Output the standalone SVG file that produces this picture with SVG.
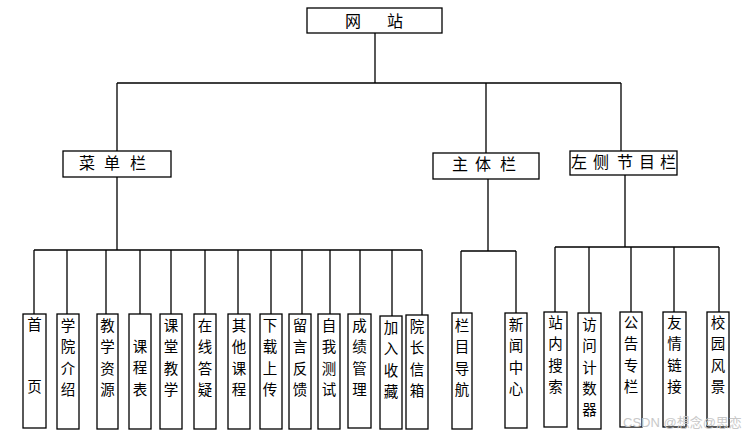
<svg xmlns="http://www.w3.org/2000/svg" width="753" height="437" viewBox="0 0 753 437">
<style>
.box{fill:#fff;stroke:#000;stroke-width:1.3}
.ln{fill:none;stroke:#000;stroke-width:1.3}
.t{font-family:"Noto Sans CJK SC","Liberation Sans",sans-serif;font-size:16px;fill:#000}
.v{font-family:"Noto Sans CJK SC","Liberation Sans",sans-serif;font-size:14.5px;fill:#000;text-anchor:middle}
.wm{font-family:"Liberation Sans","Noto Sans CJK SC",sans-serif;font-size:13px;fill:#c8c8c8}
</style>
<rect width="753" height="437" fill="#fff"/>
<g id="connectors">
<path class="ln" d="M375 33V83M117 83H621M117 83V151M486 83V153M621 83V151"/>
<path class="ln" d="M117 177V250M34 250H422M34 250V314M67 250V314M106 250V314M140 250V314M171 250V314M205 250V314M238 250V314M271 250V314M302 250V314M330 250V314M360 250V314M392 250V316M422 250V315"/>
<path class="ln" d="M488 179V251M461 251H516M461 251V313M516 251V313"/>
<path class="ln" d="M625 175V247M555 247H719M555 247V312M589 247V313M631 247V312M674 247V312M719 247V312"/>
</g>
<g id="n-wangzhan"><rect class="box" x="307" y="8" width="135" height="25"/><text class="t" x="345" y="27">网</text><text class="t" x="387" y="27">站</text></g>
<g id="n-caidan"><rect class="box" x="63" y="151" width="108" height="26"/><text class="t" x="79" y="169">菜</text><text class="t" x="104" y="169">单</text><text class="t" x="130" y="169">栏</text></g>
<g id="n-zhuti"><rect class="box" x="433" y="153" width="106" height="26"/><text class="t" x="452" y="170">主</text><text class="t" x="475" y="170">体</text><text class="t" x="500" y="170">栏</text></g>
<g id="n-zuoce"><rect class="box" x="570" y="151" width="107" height="24"/><text class="t" x="571" y="168">左</text><text class="t" x="593" y="168">侧</text><text class="t" x="617" y="168">节</text><text class="t" x="639" y="168">目</text><text class="t" x="660" y="168">栏</text></g>
<g id="n-shouye"><rect class="box" x="23" y="314" width="23" height="114"/><text class="v" x="34.5" y="330">首</text><text class="v" x="34.5" y="392">页</text></g>
<g id="n-xueyuan"><rect class="box" x="57" y="314" width="22" height="115"/><text class="v" x="68" y="331">学</text><text class="v" x="68" y="352">院</text><text class="v" x="68" y="374">介</text><text class="v" x="68" y="395">绍</text></g>
<g id="n-jiaoxue"><rect class="box" x="97" y="314" width="21" height="115"/><text class="v" x="107.5" y="331">教</text><text class="v" x="107.5" y="352">学</text><text class="v" x="107.5" y="374">资</text><text class="v" x="107.5" y="395">源</text></g>
<g id="n-kechengbiao"><rect class="box" x="129" y="314" width="22" height="115"/><text class="v" x="140" y="352">课</text><text class="v" x="140" y="373">程</text><text class="v" x="140" y="395">表</text></g>
<g id="n-ketang"><rect class="box" x="160" y="314" width="22" height="115"/><text class="v" x="171" y="331">课</text><text class="v" x="171" y="352">堂</text><text class="v" x="171" y="374">教</text><text class="v" x="171" y="395">学</text></g>
<g id="n-zaixian"><rect class="box" x="194" y="314" width="22" height="115"/><text class="v" x="205" y="331">在</text><text class="v" x="205" y="352">线</text><text class="v" x="205" y="374">答</text><text class="v" x="205" y="395">疑</text></g>
<g id="n-qita"><rect class="box" x="228" y="314" width="22" height="115"/><text class="v" x="239" y="331">其</text><text class="v" x="239" y="352">他</text><text class="v" x="239" y="374">课</text><text class="v" x="239" y="395">程</text></g>
<g id="n-xiazai"><rect class="box" x="260" y="314" width="22" height="115"/><text class="v" x="270" y="331">下</text><text class="v" x="270" y="352">载</text><text class="v" x="270" y="374">上</text><text class="v" x="270" y="395">传</text></g>
<g id="n-liuyan"><rect class="box" x="289" y="314" width="22" height="115"/><text class="v" x="300" y="331">留</text><text class="v" x="300" y="352">言</text><text class="v" x="300" y="374">反</text><text class="v" x="300" y="395">馈</text></g>
<g id="n-ziwo"><rect class="box" x="318" y="314" width="22" height="115"/><text class="v" x="329" y="331">自</text><text class="v" x="329" y="352">我</text><text class="v" x="329" y="374">测</text><text class="v" x="329" y="395">试</text></g>
<g id="n-chengji"><rect class="box" x="348" y="314" width="23" height="114"/><text class="v" x="359.5" y="331">成</text><text class="v" x="359.5" y="352">绩</text><text class="v" x="359.5" y="374">管</text><text class="v" x="359.5" y="395">理</text></g>
<g id="n-jiaru"><rect class="box" x="380" y="316" width="22" height="113"/><text class="v" x="391" y="333">加</text><text class="v" x="391" y="354">入</text><text class="v" x="391" y="376">收</text><text class="v" x="391" y="397">藏</text></g>
<g id="n-yuanzhang"><rect class="box" x="406" y="315" width="22" height="114"/><text class="v" x="417" y="332">院</text><text class="v" x="417" y="353">长</text><text class="v" x="417" y="375">信</text><text class="v" x="417" y="396">箱</text></g>
<g id="n-lanmu"><rect class="box" x="452" y="313" width="20" height="116"/><text class="v" x="462" y="331">栏</text><text class="v" x="462" y="352">目</text><text class="v" x="462" y="374">导</text><text class="v" x="462" y="395">航</text></g>
<g id="n-xinwen"><rect class="box" x="505" y="313" width="22" height="115"/><text class="v" x="516" y="330">新</text><text class="v" x="516" y="351">闻</text><text class="v" x="516" y="373">中</text><text class="v" x="516" y="394">心</text></g>
<g id="n-zhannei"><rect class="box" x="544" y="312" width="23" height="115"/><text class="v" x="555.5" y="328">站</text><text class="v" x="555.5" y="349">内</text><text class="v" x="555.5" y="371">搜</text><text class="v" x="555.5" y="392">索</text></g>
<g id="n-fangwen"><rect class="box" x="578" y="313" width="23" height="116"/><text class="v" x="589.5" y="330">访</text><text class="v" x="589.5" y="351">问</text><text class="v" x="589.5" y="373">计</text><text class="v" x="589.5" y="394">数</text><text class="v" x="589.5" y="415">器</text></g>
<g id="n-gonggao"><rect class="box" x="620" y="312" width="22" height="115"/><text class="v" x="631" y="328">公</text><text class="v" x="631" y="349">告</text><text class="v" x="631" y="371">专</text><text class="v" x="631" y="392">栏</text></g>
<g id="n-youqing"><rect class="box" x="663" y="312" width="23" height="115"/><text class="v" x="674.5" y="328">友</text><text class="v" x="674.5" y="349">情</text><text class="v" x="674.5" y="371">链</text><text class="v" x="674.5" y="392">接</text></g>
<g id="n-xiaoyuan"><rect class="box" x="707" y="312" width="22" height="115"/><text class="v" x="718" y="328">校</text><text class="v" x="718" y="349">园</text><text class="v" x="718" y="371">风</text><text class="v" x="718" y="392">景</text></g>
<text class="wm" x="623" y="427">CSDN @想念@思恋</text>
</svg>
